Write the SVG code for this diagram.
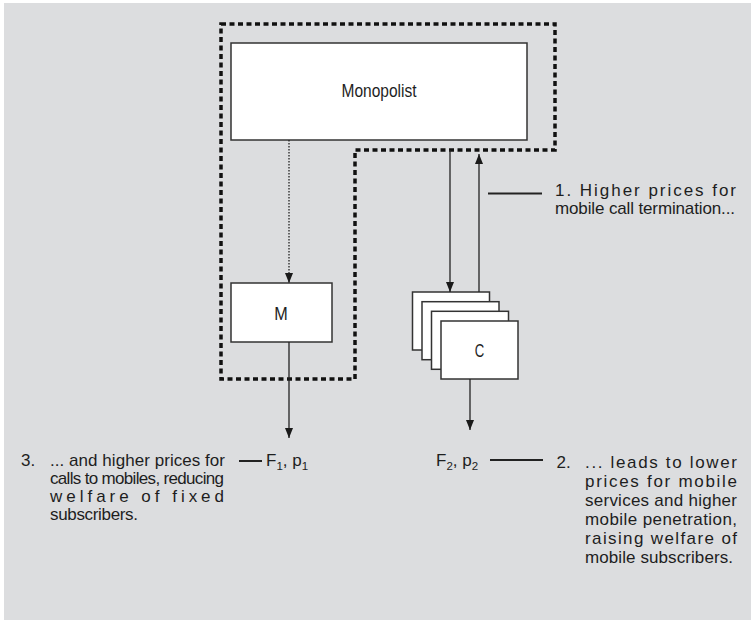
<svg xmlns="http://www.w3.org/2000/svg" width="751" height="620" viewBox="0 0 751 620">
<defs>
<marker id="ah" viewBox="0 0 10 10" refX="10" refY="5" markerWidth="10" markerHeight="10" markerUnits="userSpaceOnUse" orient="auto">
<path d="M0,1 L10,5 L0,9 Z" fill="#1a1a1a"/>
</marker>
<style>
.box{fill:#fff;stroke:#333;stroke-width:1.5}
.lbl{font-family:"Liberation Sans Narrow","Liberation Sans",Arial,sans-serif;fill:#1e1e1e}
.node{font-size:19px;text-anchor:middle}
.ann{font-size:17px}
.conn{stroke:#222;stroke-width:1.3;fill:none}
.lead{stroke:#222;stroke-width:2;fill:none}
.bound{stroke:#111;stroke-width:3.5;fill:none;stroke-dasharray:5 3.5}
</style>
</defs>
<rect x="0" y="0" width="751" height="620" fill="#fff"/>
<rect x="4" y="3" width="747" height="617" fill="#dcdddf"/>

<g id="boundary">
<path class="bound" d="M221,24 H555 V150 H355 V379 H221 Z"/>
</g>

<g id="monopolist">
<rect class="box" x="231" y="43" width="296" height="97"/>
<text class="lbl node" x="379" y="96.5" textLength="75" lengthAdjust="spacingAndGlyphs">Monopolist</text>
</g>

<g id="m">
<rect class="box" x="231" y="283" width="101" height="59"/>
<text class="lbl node" x="281" y="320" textLength="13.5" lengthAdjust="spacingAndGlyphs">M</text>
</g>

<g id="c">
<rect class="box" x="412.5" y="292" width="77" height="58"/>
<rect class="box" x="422" y="301.7" width="77" height="58"/>
<rect class="box" x="431.5" y="311.3" width="77" height="58"/>
<rect class="box" x="441" y="321" width="77" height="58"/>
<text class="lbl node" x="479.5" y="357" textLength="9.5" lengthAdjust="spacingAndGlyphs">C</text>
</g>

<g id="connectors">
<line class="conn" x1="289" y1="140" x2="289" y2="283" stroke-dasharray="1.5 1.5" stroke-width="1" marker-end="url(#ah)"/>
<line class="conn" x1="450" y1="150" x2="450" y2="292" marker-end="url(#ah)"/>
<line class="conn" x1="479" y1="292" x2="479" y2="154" marker-end="url(#ah)"/>
<line class="conn" x1="289" y1="342" x2="289" y2="438" marker-end="url(#ah)"/>
<line class="conn" x1="470" y1="379" x2="470" y2="430" marker-end="url(#ah)"/>
<line class="lead" x1="488" y1="193.5" x2="542" y2="193.5"/>
<line class="lead" x1="239" y1="461" x2="262" y2="461"/>
<line class="lead" x1="490" y1="460" x2="543" y2="460"/>
</g>

<g id="f1p1">
<text class="lbl ann" x="266" y="466">F<tspan font-size="11.5" dy="4">1</tspan><tspan dy="-4">, p</tspan><tspan font-size="11.5" dy="4">1</tspan></text>
</g>
<g id="f2p2">
<text class="lbl ann" x="436" y="466">F<tspan font-size="11.5" dy="4">2</tspan><tspan dy="-4">, p</tspan><tspan font-size="11.5" dy="4">2</tspan></text>
</g>

<g id="note1">
<text class="lbl ann" x="555" y="196" textLength="181" lengthAdjust="spacing">1. Higher prices for</text>
<text class="lbl ann" x="555" y="214" textLength="180" lengthAdjust="spacing">mobile call termination...</text>
</g>

<g id="note3">
<text class="lbl ann" x="21" y="466">3.</text>
<text class="lbl ann" x="50" y="466" textLength="175" lengthAdjust="spacing">... and higher prices for</text>
<text class="lbl ann" x="50" y="484" textLength="174" lengthAdjust="spacing">calls to mobiles, reducing</text>
<text class="lbl ann" x="50" y="502" textLength="174" lengthAdjust="spacing">welfare of fixed</text>
<text class="lbl ann" x="50" y="520" textLength="88" lengthAdjust="spacing">subscribers.</text>
</g>

<g id="note2">
<text class="lbl ann" x="556.5" y="468">2.</text>
<text class="lbl ann" x="585" y="468" textLength="152" lengthAdjust="spacing">... leads to lower</text>
<text class="lbl ann" x="585" y="487" textLength="152" lengthAdjust="spacing">prices for mobile</text>
<text class="lbl ann" x="585" y="506" textLength="152" lengthAdjust="spacing">services and higher</text>
<text class="lbl ann" x="585" y="525" textLength="152" lengthAdjust="spacing">mobile penetration,</text>
<text class="lbl ann" x="585" y="544" textLength="152" lengthAdjust="spacing">raising welfare of</text>
<text class="lbl ann" x="585" y="563" textLength="148" lengthAdjust="spacing">mobile subscribers.</text>
</g>
</svg>
